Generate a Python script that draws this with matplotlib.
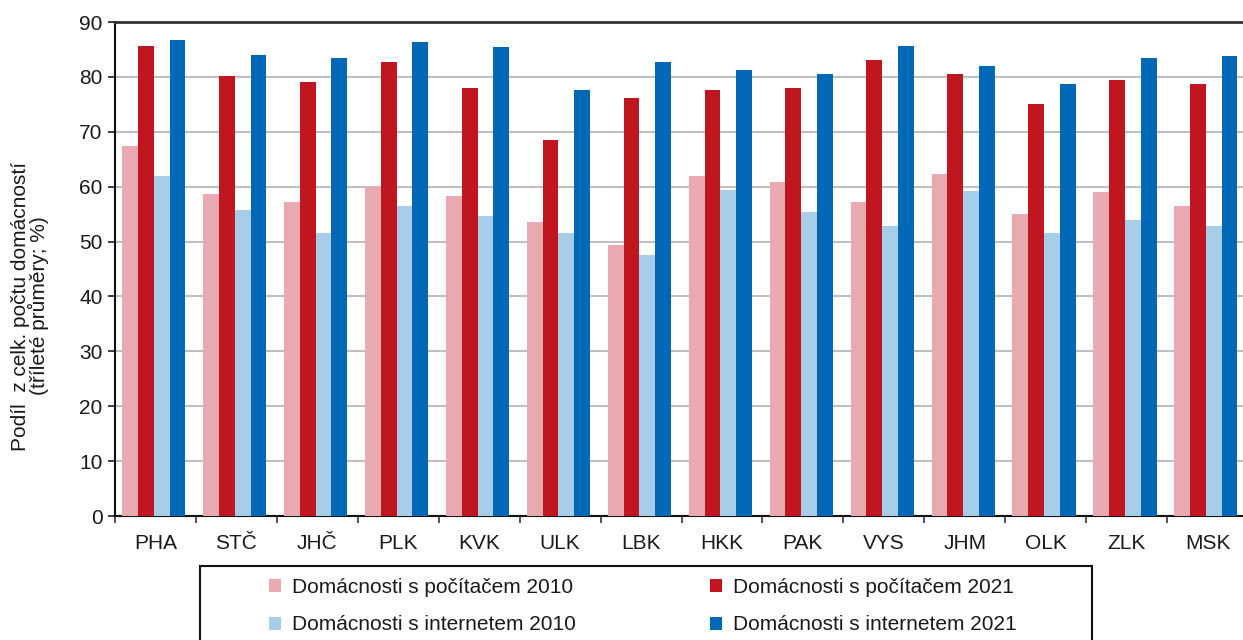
import matplotlib
matplotlib.use("Agg")
import matplotlib.pyplot as plt
import numpy as np
from matplotlib.patches import Rectangle

plt.rcParams['font.family'] = ['Liberation Sans', 'DejaVu Sans']

categories = ["PHA", "STČ", "JHČ", "PLK", "KVK", "ULK", "LBK", "HKK", "PAK", "VYS", "JHM", "OLK", "ZLK", "MSK"]
pc_2010 = [67.5, 58.7, 57.2, 59.9, 58.3, 53.6, 49.3, 61.9, 60.8, 57.2, 62.3, 55.0, 59.0, 56.5]
pc_2021 = [85.7, 80.2, 79.1, 82.8, 78.0, 68.5, 76.2, 77.7, 78.0, 83.1, 80.6, 75.0, 79.5, 78.7]
net_2010 = [61.9, 55.7, 51.5, 56.5, 54.6, 51.5, 47.5, 59.4, 55.4, 52.8, 59.3, 51.5, 53.9, 52.8]
net_2021 = [86.8, 83.9, 83.5, 86.4, 85.4, 77.7, 82.8, 81.3, 80.6, 85.7, 82.0, 78.7, 83.5, 83.8]

series = [
    ("Domácnosti s počítačem 2010", pc_2010, "#E8A9B0"),
    ("Domácnosti s počítačem 2021", pc_2021, "#C0161F"),
    ("Domácnosti s internetem 2010", net_2010, "#A7CDE8"),
    ("Domácnosti s internetem 2021", net_2021, "#0068B6"),
]

W, H = 1243, 640
fig = plt.figure(figsize=(W / 100, H / 100), dpi=100)
ax = fig.add_axes([115 / W, 1 - 516 / H, (1248 - 115) / W, (516 - 22) / H])

x = np.arange(len(categories))
bw = 0.195
handles = {}
for i, (name, vals, col) in enumerate(series):
    off = (i - 1.5) * bw - 0.02
    b = ax.bar(x + off, vals, width=bw, color=col, zorder=3, linewidth=0)
    handles[name] = b

ax.set_xlim(-0.5, len(categories) - 0.5)
ax.set_ylim(0, 90)
ax.set_yticks(np.arange(0, 91, 10))
ax.yaxis.grid(True, color="#BFBFBF", linewidth=1.5, zorder=0)
ax.set_axisbelow(True)

ax.set_xticks(x)
ax.set_xticklabels(categories)
ax.set_xticks(np.arange(-0.5, len(categories), 1), minor=True)
ax.tick_params(axis='x', which='major', length=0, pad=13, labelsize=15, colors="#1a1a1a")
ax.tick_params(axis='x', which='minor', length=5, width=1.2, direction='out', color='#333333')
ax.tick_params(axis='y', length=5, width=1.2, direction='out', labelsize=15, pad=4, colors="#1a1a1a")

ax.spines['right'].set_visible(False)
ax.spines['top'].set_color('#333333')
ax.spines['top'].set_linewidth(2)
ax.spines['left'].set_color('#111111')
ax.spines['left'].set_linewidth(1.5)
ax.spines['bottom'].set_color('#111111')
ax.spines['bottom'].set_linewidth(1.5)

fig.text(30 / W, 1 - 306 / H, "Podíl  z celk. počtu domácností\n(tříleté průměry; %)",
         rotation=90, ha='center', va='center', fontsize=15, color="#1a1a1a",
         linespacing=0.85)

# legend box
rect = Rectangle((200 / W, 1 - 660 / H), (1092 - 200) / W, (660 - 566) / H,
                 transform=fig.transFigure, fill=False, edgecolor='#111111',
                 linewidth=1.5, clip_on=False)
fig.patches.append(rect)

order = [series[0][0], series[2][0], series[1][0], series[3][0]]
leg = fig.legend([handles[n] for n in order], order, ncol=2, frameon=False,
                 loc='upper left', bbox_to_anchor=(250 / W, 1 - 559 / H),
                 fontsize=15, handlelength=0.6, handleheight=0.6, handletextpad=0.5,
                 columnspacing=6.45, labelspacing=0.9)
for t in leg.get_texts():
    t.set_color("#1a1a1a")

fig.savefig("out.png", dpi=100)
